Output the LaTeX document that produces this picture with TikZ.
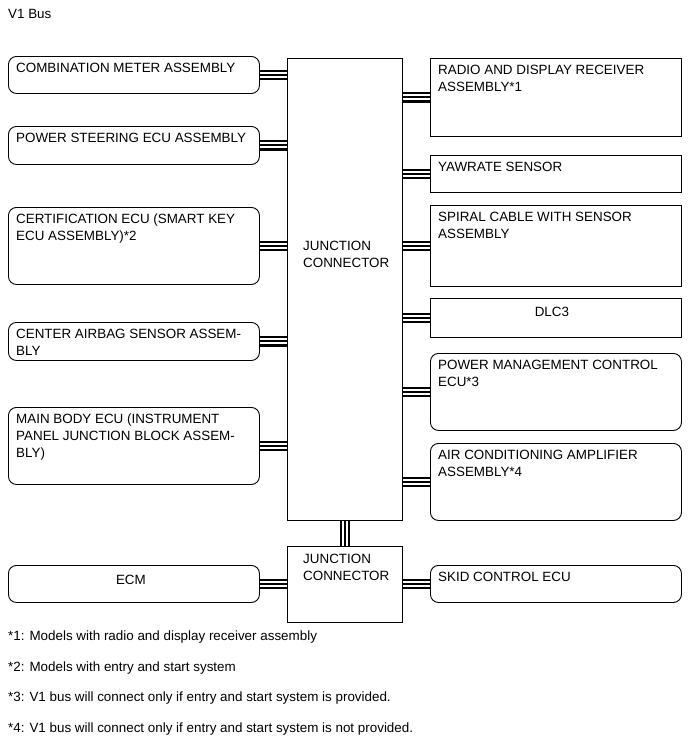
\documentclass[tikz,border=0pt]{standalone}
\usepackage{fontspec}
\setmainfont{Liberation Sans}
\usetikzlibrary{positioning}

\begin{document}
\begin{tikzpicture}[
    x=1pt, y=-1pt,
    font=\fontsize{13.4}{17}\selectfont,
    unit/.style={draw, line width=0.9pt, anchor=north west, minimum width=251pt,
    inner sep=0pt},
    rbox/.style={unit, rounded corners=8pt},
    sbox/.style={unit},
    jbox/.style={draw, line width=0.9pt, anchor=north west, minimum width=115pt,
    inner sep=0pt},
    txt/.style={anchor=north west, align=left, inner sep=0pt, xshift=8pt, yshift=-7pt},
    ctxt/.style={anchor=north, inner sep=0pt},
    note/.style={anchor=west, inner sep=0pt},
    bus/.style={draw=white, line width=6pt, preaction={draw=black, line width=10.5pt},
    postaction={draw=black, line width=2pt}}
]
\useasboundingbox (0,0) rectangle (689,756);

\node[note, anchor=north west] (title) at (8,9) {V1 Bus};

% junction connectors
\node[jbox, minimum height=462pt,
  label={[txt, xshift=8pt, yshift=-176pt]north west:{JUNCTION\\CONNECTOR}}] (jc1) at (287,58) {};
\node[jbox, minimum height=76pt,
  label={[txt, xshift=8pt, yshift=-1pt]north west:{JUNCTION\\CONNECTOR}}] (jc2) at (287,546) {};

% left side
\node[rbox, minimum height=37pt, label={[txt]north west:{COMBINATION METER ASSEMBLY}}] (combi) at (8,56) {};
\node[rbox, minimum height=38pt, label={[txt]north west:{POWER STEERING ECU ASSEMBLY}}] (pwrsteer) at (8,126) {};
\node[rbox, minimum height=77pt, label={[txt]north west:{CERTIFICATION ECU (SMART KEY\\ECU ASSEMBLY)*2}}] (certif) at (8,207) {};
\node[rbox, minimum height=38pt, label={[txt]north west:{CENTER AIRBAG SENSOR ASSEM-\\BLY}}] (airbag) at (8,322) {};
\node[rbox, minimum height=77pt, label={[txt]north west:{MAIN BODY ECU (INSTRUMENT\\PANEL JUNCTION BLOCK ASSEM-\\BLY)}}] (mainbody) at (8,407) {};
\node[rbox, minimum height=37pt, label={[ctxt, xshift=-3pt, yshift=-10pt]north:{ECM}}] (ecm) at (8,565) {};

% right side
\node[sbox, minimum height=78pt, label={[txt]north west:{RADIO AND DISPLAY RECEIVER\\ASSEMBLY*1}}] (radio) at (430,58) {};
\node[sbox, minimum height=37pt, label={[txt]north west:{YAWRATE SENSOR}}] (yawrate) at (430,155) {};
\node[sbox, minimum height=81pt, label={[txt]north west:{SPIRAL CABLE WITH SENSOR\\ASSEMBLY}}] (spiral) at (430,205) {};
\node[sbox, minimum height=39pt, label={[ctxt, xshift=-4pt, yshift=-9pt]north:{DLC3}}] (dlc) at (430,298) {};
\node[rbox, minimum height=77pt, label={[txt]north west:{POWER MANAGEMENT CONTROL\\ECU*3}}] (pwrmgmt) at (430,353) {};
\node[rbox, minimum height=77pt, label={[txt]north west:{AIR CONDITIONING AMPLIFIER\\ASSEMBLY*4}}] (aircon) at (430,443) {};
\node[rbox, minimum height=37pt, label={[txt]north west:{SKID CONTROL ECU}}] (skid) at (430,565) {};

% bus lines
\draw[bus] (combi) -- (combi -| jc1.west);
\draw[bus] (pwrsteer) -- (pwrsteer -| jc1.west);
\draw[bus] (certif) -- (certif -| jc1.west);
\draw[bus] (airbag) -- (airbag -| jc1.west);
\draw[bus] (mainbody) -- (mainbody -| jc1.west);
\draw[bus] (jc1.east |- radio) -- (radio);
\draw[bus] (jc1.east |- yawrate) -- (yawrate);
\draw[bus] (jc1.east |- spiral) -- (spiral);
\draw[bus] (jc1.east |- dlc) -- (dlc);
\draw[bus] (jc1.east |- pwrmgmt) -- (pwrmgmt);
\draw[bus] (jc1.east |- aircon) -- (aircon);
\draw[bus] (jc1.south) -- (jc2.north);
\draw[bus] (ecm) -- (ecm -| jc2.west);
\draw[bus] (jc2.east |- skid) -- (skid);

% notes
\node[note] (fn1) at (8,637) {*1: Models with radio and display receiver assembly};
\node[note] (fn2) at (8,668) {*2: Models with entry and start system};
\node[note] (fn3) at (8,698) {*3: V1 bus will connect only if entry and start system is provided.};
\node[note] (fn4) at (8,729) {*4: V1 bus will connect only if entry and start system is not provided.};
\end{tikzpicture}
\end{document}
